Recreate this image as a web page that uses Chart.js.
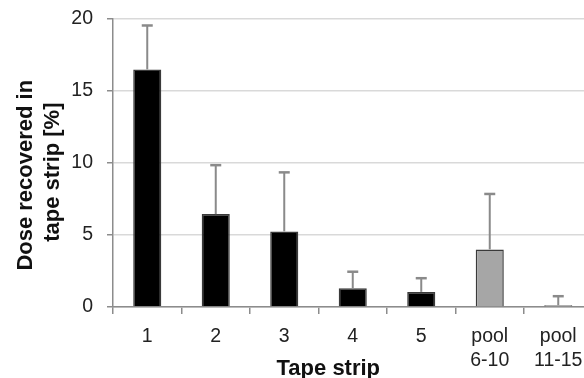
<!DOCTYPE html>
<html>
<head>
<meta charset="utf-8">
<script src="https://cdn.jsdelivr.net/npm/chart.js@4"></script>
<style>
  html, body { margin: 0; padding: 0; background: #fff; overflow: hidden; }
  #wrap { width: 600px; height: 378px; position: relative; }
</style>
</head>
<body>
<div id="wrap"><canvas id="chart"></canvas></div>
<script>
const strips = ['1', '2', '3', '4', '5', ['pool', '6-10'], ['pool', '11-15']];
const doseRecovered = [16.5, 6.45, 5.25, 1.3, 1.05, 4.0, 0.12];
const doseSD = [3.05, 3.4, 4.1, 1.15, 0.95, 3.85, 0.63];
const barColors = ['#000000', '#000000', '#000000', '#000000', '#000000', '#a6a6a6', '#a6a6a6'];
const yTicks = [0, 5, 10, 15, 20];

// error bars (upper only), drawn from the bar tops
const errorBars = {
    id: 'errorBars',
    afterDatasetsDraw(chart) {
        const ctx = chart.ctx;
        const yScale = chart.scales.y;
        const meta = chart.getDatasetMeta(0);
        ctx.save();
        ctx.strokeStyle = '#8a8a8a';
        meta.data.forEach((bar, i) => {
            const top = yScale.getPixelForValue(doseRecovered[i] + doseSD[i]);
            ctx.lineWidth = 2;
            ctx.beginPath();
            ctx.moveTo(bar.x, bar.y);
            ctx.lineTo(bar.x, top);
            ctx.stroke();
            ctx.lineWidth = 2.5;
            ctx.beginPath();
            ctx.moveTo(bar.x - 5.5, top);
            ctx.lineTo(bar.x + 5.5, top);
            ctx.stroke();
        });
        ctx.restore();
    }
};

new Chart(document.getElementById('chart').getContext('2d'), {
    type: 'bar',
    data: {
        labels: strips,
        datasets: [{
            data: doseRecovered,
            backgroundColor: barColors,
            borderColor: '#3a3a3a',
            borderWidth: 1.5,
            barPercentage: 0.41,
            categoryPercentage: 1
        }]
    },
    options: {
        responsive: true,
        maintainAspectRatio: false,
        animation: false,
        layout: { padding: { top: 19, right: 7.5, left: 0, bottom: 0 } },
        plugins: {
            legend: { display: false },
            tooltip: { enabled: false }
        },
        scales: {
            x: {
                afterFit: (scale) => { scale.height = 71; },
                grid: {
                    offset: true,
                    drawOnChartArea: false,
                    tickLength: 7,
                    tickColor: '#8c8c8c',
                    lineWidth: 1.5
                },
                border: { color: '#8c8c8c', width: 1.5 },
                ticks: {
                    color: '#222',
                    font: { family: 'Liberation Sans', size: 19.5, lineHeight: 1.25 },
                    padding: 10,
                    maxRotation: 0
                },
                title: {
                    display: true,
                    text: 'Tape strip        ',
                    color: '#111',
                    font: { family: 'Liberation Sans', size: 22, weight: 'bold' },
                    padding: { top: 0, bottom: -4 }
                }
            },
            y: {
                min: 0,
                max: 20,
                afterFit: (scale) => {
                    scale.width = 113;
                    scale.paddingTop = 0;
                    scale.paddingBottom = 0;
                },
                afterBuildTicks: (scale) => { scale.ticks = yTicks.map(v => ({ value: v })); },
                grid: {
                    color: '#d9d9d9',
                    lineWidth: 1.5,
                    tickLength: 6,
                    tickColor: '#8c8c8c'
                },
                border: { color: '#8c8c8c', width: 1.5 },
                ticks: {
                    color: '#222',
                    font: { family: 'Liberation Sans', size: 19.5 },
                    padding: 14
                },
                title: {
                    display: true,
                    text: ['Dose recovered in    ', 'tape strip [%]   '],
                    color: '#111',
                    font: { family: 'Liberation Sans', size: 22, weight: 'bold', lineHeight: 1.25 },
                    padding: { top: 12, bottom: 0 }
                }
            }
        }
    },
    plugins: [errorBars]
});
</script>
</body>
</html>
